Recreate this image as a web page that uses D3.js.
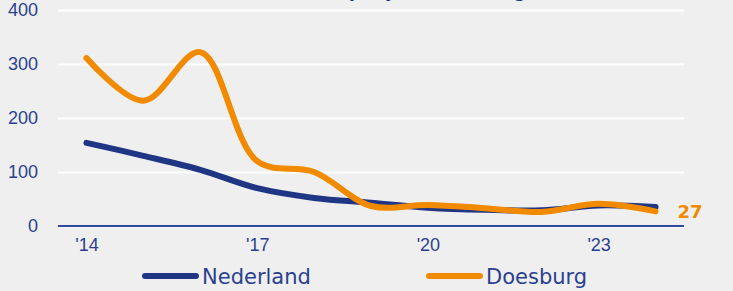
<!DOCTYPE html>
<html>
<head>
<meta charset="utf-8">
<script src="https://cdn.jsdelivr.net/npm/d3@7"></script>
<style>
  body { margin: 0; background: #efefef; }
  svg { display: block; font-family: "DejaVu Sans", sans-serif; }
</style>
</head>
<body>
<script>
// data
var years = [2014, 2015, 2016, 2017, 2018, 2019, 2020, 2021, 2022, 2023, 2024];
var nederland = [154, 130, 104, 70, 52, 43, 34, 30, 29, 38, 35];
var doesburg = [311, 232, 322, 120, 100, 37, 39, 33, 26, 41, 27];
var xTicks = [2014, 2017, 2020, 2023];
var xTickLabels = ["'14", "'17", "'20", "'23"];
var yTicks = [0, 100, 200, 300, 400];
var seriesNames = ["Nederland", "Doesburg"];
var titleText = "Aantal inbraken per jaar, Doesburg";

var svgWidth = 733, svgHeight = 291;
var margin = { top: 10, right: 49, bottom: 65, left: 58 };
var chartWidth = svgWidth - margin.left - margin.right;
var chartHeight = svgHeight - margin.top - margin.bottom;

var navy = "#1f3685";
var orange = "#f28a00";
var textBlue = "#2b3f8f";

var svg = d3.select("body").append("svg")
  .attr("width", svgWidth)
  .attr("height", svgHeight);

svg.append("rect")
  .attr("width", svgWidth)
  .attr("height", svgHeight)
  .attr("fill", "#efefef");

var chartGroup = svg.append("g")
  .attr("transform", `translate(${margin.left}, ${margin.top})`);

var xScale = d3.scalePoint()
  .domain(years)
  .range([0, chartWidth])
  .padding(0.5);

var yScale = d3.scaleLinear()
  .domain([0, 400])
  .range([chartHeight, 0]);

// gridlines
var yAxis = d3.axisLeft(yScale)
  .tickValues(yTicks)
  .tickSize(-chartWidth)
  .tickFormat(d3.format("d"));

var yG = chartGroup.append("g").call(yAxis);
yG.select(".domain").remove();
yG.selectAll(".tick line")
  .attr("stroke", "#ffffff")
  .attr("stroke-width", 2);
yG.selectAll(".tick text")
  .attr("x", -20)
  .attr("fill", textBlue)
  .style("font-size", "18px");

// x axis
var xAxis = d3.axisBottom(xScale)
  .tickValues(xTicks)
  .tickSize(0)
  .tickFormat((d, i) => xTickLabels[i]);

var xG = chartGroup.append("g")
  .attr("transform", `translate(0, ${chartHeight})`)
  .call(xAxis);
xG.select(".domain").remove();
xG.selectAll(".tick text")
  .attr("y", 12)
  .attr("fill", textBlue)
  .style("font-size", "18px");

chartGroup.append("line")
  .attr("x1", 0)
  .attr("x2", chartWidth)
  .attr("y1", yScale(0))
  .attr("y2", yScale(0))
  .attr("stroke", "#2f4a9e")
  .attr("stroke-width", 2);

// lines
var line = d3.line()
  .x((d, i) => xScale(years[i]))
  .y(d => yScale(d))
  .curve(d3.curveCatmullRom.alpha(0.5));

chartGroup.append("path")
  .datum(nederland)
  .attr("d", line)
  .attr("fill", "none")
  .attr("stroke", navy)
  .attr("stroke-width", 6)
  .attr("stroke-linecap", "round");

chartGroup.append("path")
  .datum(doesburg)
  .attr("d", line)
  .attr("fill", "none")
  .attr("stroke", orange)
  .attr("stroke-width", 6)
  .attr("stroke-linecap", "round");

// end label
var last = doesburg.length - 1;
chartGroup.append("text")
  .attr("x", xScale(years[last]) + 22)
  .attr("y", yScale(doesburg[last]) + 7)
  .attr("fill", orange)
  .style("font-size", "18px")
  .style("font-weight", "bold")
  .text(doesburg[last]);

// legend
var legendColors = [navy, orange];
var legendX = [145, 429];
seriesNames.forEach(function(name, i) {
  var g = svg.append("g").attr("transform", `translate(${legendX[i]}, 276)`);
  g.append("line")
    .attr("x1", 0).attr("x2", 51)
    .attr("stroke", legendColors[i])
    .attr("stroke-width", 6)
    .attr("stroke-linecap", "round");
  g.append("text")
    .attr("x", 57)
    .attr("y", 8)
    .attr("fill", textBlue)
    .style("font-size", "21px")
    .text(name);
});

// title, mostly cut off at the top like in the original
var title = svg.append("text")
  .attr("y", -3)
  .attr("fill", navy)
  .style("font-size", "17px")
  .style("font-weight", "bold")
  .text(titleText);
var pIndex = titleText.indexOf("per");
var offset = title.node().getSubStringLength(0, pIndex);
title.attr("x", 349 - offset);
</script>
</body>
</html>
